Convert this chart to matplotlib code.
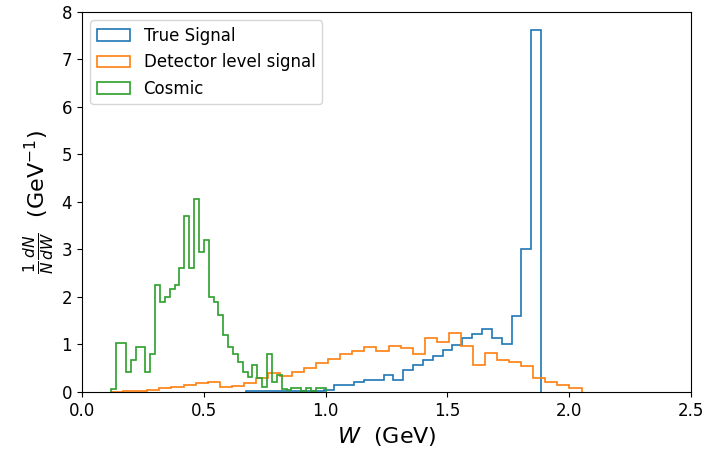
import numpy as np
import matplotlib
matplotlib.use("Agg")
import matplotlib.pyplot as plt

# normalised histogram contents, 1/N dN/dW in GeV^-1
true_lo, true_hi = 0.672, 1.884
true_signal = [0.02, 0.02, 0.02, 0.02, 0.02, 0.03, 0.03, 0.03, 0.05, 0.15,
               0.15, 0.22, 0.25, 0.25, 0.36, 0.25, 0.46, 0.57, 0.67, 0.76,
               0.88, 0.99, 1.13, 1.23, 1.32, 1.14, 1.01, 1.59, 3.02, 7.62]

det_lo, det_hi = 0.12, 2.05
detector_signal = [0.01, 0.02, 0.03, 0.05, 0.08, 0.11, 0.14, 0.18, 0.22, 0.10,
                   0.13, 0.18, 0.29, 0.41, 0.34, 0.43, 0.50, 0.60, 0.69, 0.80,
                   0.87, 0.94, 0.87, 0.97, 0.92, 0.81, 1.13, 1.06, 1.24, 0.96,
                   0.57, 0.82, 0.68, 0.64, 0.55, 0.30, 0.21, 0.14, 0.08]

cos_lo, cos_hi = 0.12, 1.00
cosmic = [0.07, 1.04, 1.04, 0.43, 0.67, 0.94, 0.94, 0.43, 0.81, 2.25,
          1.89, 1.99, 2.16, 2.25, 2.60, 3.70, 2.60, 4.06, 2.95, 3.20,
          2.00, 1.90, 1.63, 1.20, 0.95, 0.81, 0.64, 0.43, 0.32, 0.57,
          0.29, 0.11, 0.80, 0.22, 0.36, 0.06, 0.04, 0.08, 0.08, 0.02,
          0.08, 0.02, 0.09, 0.09]

labels = ["True Signal", "Detector level signal", "Cosmic"]

plt.rcParams['font.family'] = ['DejaVu Sans']

fig = plt.figure(figsize=(7.06, 4.54), dpi=100)
ax = fig.add_axes([0.116, 0.1366, 0.863, 0.837])

for vals, lo, hi, lab in [(true_signal, true_lo, true_hi, labels[0]),
                          (detector_signal, det_lo, det_hi, labels[1]),
                          (cosmic, cos_lo, cos_hi, labels[2])]:
    edges = np.linspace(lo, hi, len(vals) + 1)
    centres = 0.5 * (edges[:-1] + edges[1:])
    ax.hist(centres, bins=edges, weights=vals, histtype='step',
            linewidth=1.2, label=lab)

ax.set_xlim(0, 2.5)
ax.set_ylim(0, 8)
ax.set_xticks([0.0, 0.5, 1.0, 1.5, 2.0, 2.5])
ax.tick_params(labelsize=12)
ax.set_xlabel(r'$W$  (GeV)', fontsize=16)
ax.set_ylabel(r'$\frac{1}{N}\frac{dN}{dW}$  (GeV$^{-1}$)', fontsize=16)
ax.legend(loc='upper left', fontsize=12)

fig.savefig("out.png", dpi=100)
